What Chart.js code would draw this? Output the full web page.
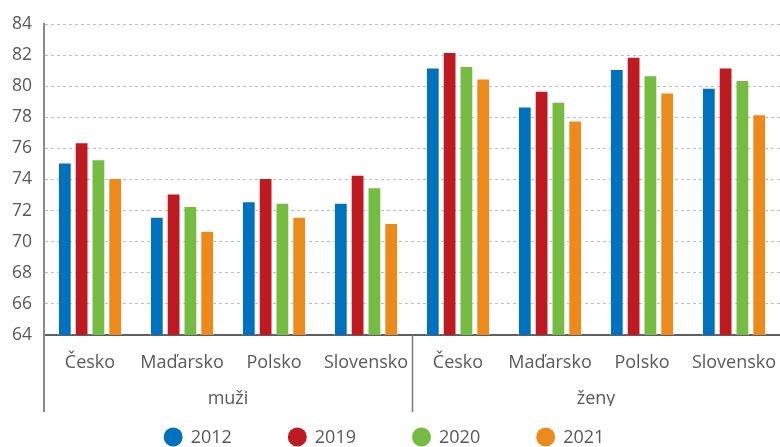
<!DOCTYPE html>
<html>
<head>
<meta charset="utf-8">
<script src="https://cdn.jsdelivr.net/npm/chart.js@4/dist/chart.umd.min.js"></script>
<style>
  html, body { margin: 0; padding: 0; background: #fff; }
  #wrap { width: 780px; height: 447px; }
</style>
</head>
<body>
<div id="wrap"><canvas id="chart"></canvas></div>
<script>
const countries = ['Česko', 'Maďarsko', 'Polsko', 'Slovensko'];
const groups = ['muži', 'ženy'];
const years = ['2012', '2019', '2020', '2021'];
const v2012 = [75.1, 71.6, 72.6, 72.5, 81.2, 78.7, 81.1, 79.9];
const v2019 = [76.4, 73.1, 74.1, 74.3, 82.2, 79.7, 81.9, 81.2];
const v2020 = [75.3, 72.3, 72.5, 73.5, 81.3, 79.0, 80.7, 80.4];
const v2021 = [74.1, 70.7, 71.6, 71.2, 80.5, 77.8, 79.6, 78.2];
const colors = ['#0071bc', '#be1a21', '#76bc42', '#ec8b1c'];

const font = "'Open Sans', sans-serif";
const textColor = '#595959';

// group dividers under the category axis
const dividers = {
    id: 'dividers',
    afterDraw(chart) {
        const x = chart.scales.x;
        const x2 = chart.scales.x2;
        const c = chart.ctx;
        const per = countries.length;
        const edges = [x.left];
        for (let g = 1; g < groups.length; g++) {
            edges.push((x.getPixelForValue(g * per - 1) + x.getPixelForValue(g * per)) / 2);
        }
        c.save();
        edges.forEach((px, i) => {
            c.strokeStyle = i === 0 ? '#8a8a8a' : '#7a7a7a';
            c.lineWidth = i === 0 ? 2 : 1.5;
            c.beginPath();
            c.moveTo(Math.round(px) + (i === 0 ? 0 : 0.5), x.top);
            c.lineTo(Math.round(px) + (i === 0 ? 0 : 0.5), x2.bottom + 6);
            c.stroke();
        });
        c.restore();
    }
};

// legend with circles, drawn at the bottom
const circleLegend = {
    id: 'circleLegend',
    afterDraw(chart) {
        const c = chart.ctx;
        const r = 9.5, gap = 8, spacing = 56;
        c.save();
        c.font = '18px ' + font;
        c.textBaseline = 'middle';
        const sets = chart.data.datasets;
        const widths = sets.map(d => 2 * r + gap + c.measureText(d.label).width);
        const total = widths.reduce((a, b) => a + b, 0) + spacing * (sets.length - 1);
        let px = chart.width / 2 - 6 - total / 2;
        const py = chart.height - 10;
        sets.forEach((d, i) => {
            c.fillStyle = d.backgroundColor;
            c.beginPath();
            c.arc(px + r, py, r, 0, Math.PI * 2);
            c.fill();
            c.fillStyle = textColor;
            c.fillText(d.label, px + 2 * r + gap, py + 1);
            px += widths[i] + spacing;
        });
        c.restore();
    }
};

const seriesValues = [v2012, v2019, v2020, v2021];

function noSidePadding(s) {
    s.paddingLeft = 0;
    s.paddingRight = 0;
}

new Chart(document.getElementById('chart'), {
    type: 'bar',
    data: {
        labels: groups.flatMap(() => countries),
        datasets: years.map((y, i) => ({
            label: y,
            data: seriesValues[i],
            backgroundColor: colors[i],
            borderColor: 'rgba(255,255,255,0.45)',
            borderWidth: 1,
            categoryPercentage: 0.73,
            barPercentage: 0.82
        }))
    },
    options: {
        responsive: true,
        maintainAspectRatio: false,
        animation: false,
        layout: { padding: { top: 24, right: 0, bottom: 41, left: 0 } },
        plugins: {
            legend: { display: false },
            tooltip: { enabled: false }
        },
        scales: {
            x: {
                weight: 0,
                grid: { display: false, drawTicks: false },
                border: { display: true, color: '#5f5f5f', width: 2 },
                ticks: { color: textColor, font: { family: font, size: 18 }, padding: 17, maxRotation: 0, autoSkip: false },
                afterFit(s) { s.height = 36; noSidePadding(s); }
            },
            x2: {
                type: 'category',
                labels: groups,
                position: 'bottom',
                offset: true,
                weight: 1,
                grid: { display: false, drawTicks: false },
                border: { display: false },
                ticks: { color: textColor, font: { family: font, size: 18 }, padding: 17, maxRotation: 0 },
                afterFit(s) { s.height = 35; noSidePadding(s); }
            },
            y: {
                min: 64,
                max: 84,
                ticks: { stepSize: 2, color: textColor, font: { family: font, size: 17.5 }, padding: 12 },
                grid: { color: '#bdbdbd', lineWidth: 1, drawTicks: false },
                border: { display: true, color: '#8a8a8a', width: 2, dash: [3, 3] },
                afterFit(s) { s.width = 44; }
            }
        }
    },
    plugins: [dividers, circleLegend]
});
</script>
</body>
</html>
